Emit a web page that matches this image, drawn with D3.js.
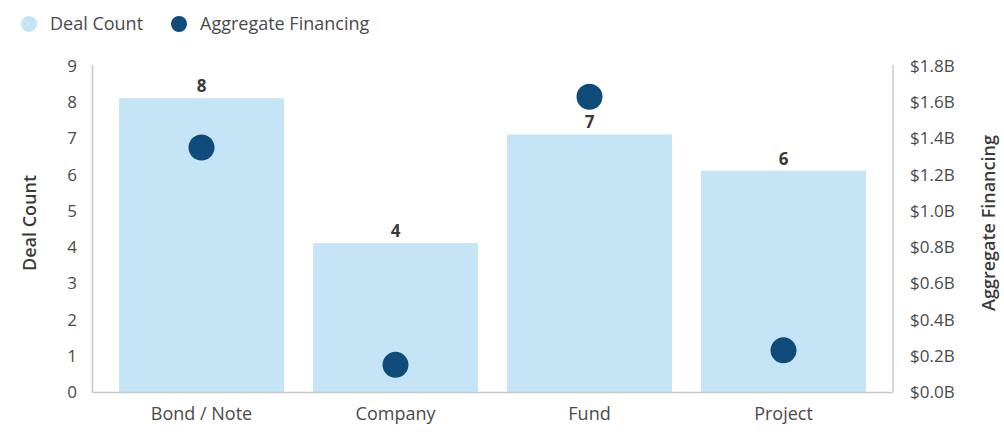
<!DOCTYPE html>
<html>
<head>
<meta charset="utf-8">
<script src="https://cdn.jsdelivr.net/npm/d3@7"></script>
<style>
  html, body { margin: 0; padding: 0; background: #fff; }
  svg { display: block; font-family: "Open Sans", sans-serif; }
</style>
</head>
<body>
<svg id="chart" width="1004" height="432"></svg>
<script>
const categories = ["Bond / Note", "Company", "Fund", "Project"];
const dealCount = [8, 4, 7, 6];
const aggregateFinancing = [1.35, 0.15, 1.63, 0.23]; // $B
const leftTicks = [0, 1, 2, 3, 4, 5, 6, 7, 8, 9];
const rightTicks = [0, 0.2, 0.4, 0.6, 0.8, 1.0, 1.2, 1.4, 1.6, 1.8];
const legendLabels = ["Deal Count", "Aggregate Financing"];

const svg = d3.select("#chart");
const barColor = "#c5e4f5";
const dotColor = "#0f4c7a";
const textColor = "#4a4a4a";
const axisColor = "#c8c8c8";

const plotLeft = 92.5, plotRight = 893, plotTop = 65, plotBottom = 392.5;

const x = d3.scaleBand().domain(categories).range([104.5, 880.5])
  .paddingInner(0.15).paddingOuter(0.075);
const yL = d3.scaleLinear().domain([0, 9]).range([392, 66]);
const yR = d3.scaleLinear().domain([0, 1.8]).range([392, 66]);

// bars
svg.append("g").selectAll("rect").data(categories).join("rect")
  .attr("x", d => x(d))
  .attr("width", x.bandwidth())
  .attr("y", (d, i) => yL(dealCount[i]) - 4)
  .attr("height", (d, i) => yL(0) - yL(dealCount[i]) + 4)
  .attr("fill", barColor);

// axis lines
const ax = svg.append("g").attr("stroke", axisColor).attr("stroke-width", 1.5);
ax.append("line").attr("x1", plotLeft).attr("x2", plotLeft).attr("y1", plotTop).attr("y2", plotBottom);
ax.append("line").attr("x1", plotRight).attr("x2", plotRight).attr("y1", plotTop).attr("y2", plotBottom);
ax.append("line").attr("x1", plotLeft).attr("x2", plotRight).attr("y1", plotBottom).attr("y2", plotBottom);

// left axis ticks (labels only)
const leftAxis = d3.axisLeft(yL).tickValues(leftTicks).tickSize(0).tickPadding(0).tickFormat(d3.format("d"));
const gL = svg.append("g").attr("transform", "translate(77,0)").call(leftAxis);
gL.select(".domain").remove();
gL.selectAll("text").attr("font-size", 17).attr("fill", textColor)
  .attr("font-family", "'Open Sans', sans-serif");

// right axis ticks
const rightAxis = d3.axisRight(yR).tickValues(rightTicks).tickSize(0).tickPadding(0)
  .tickFormat(d => "$" + d3.format(".1f")(d) + "B");
const gR = svg.append("g").attr("transform", "translate(910,0)").call(rightAxis);
gR.select(".domain").remove();
gR.selectAll("text").attr("font-size", 17).attr("fill", textColor)
  .attr("font-family", "'Open Sans', sans-serif");

// bottom axis labels
const bottomAxis = d3.axisBottom(x).tickSize(0).tickPadding(0);
const gB = svg.append("g").attr("transform", "translate(0,407)").call(bottomAxis);
gB.select(".domain").remove();
gB.selectAll("text").attr("font-size", 18).attr("fill", textColor)
  .attr("font-family", "'Open Sans', sans-serif");

// data labels
svg.append("g").selectAll("text").data(categories).join("text")
  .attr("x", d => x(d) + x.bandwidth() / 2)
  .attr("y", (d, i) => yL(dealCount[i]) - 10)
  .attr("text-anchor", "middle")
  .attr("font-size", 17).attr("font-weight", "bold").attr("fill", "#3a3a3a")
  .text((d, i) => dealCount[i]);

// dots
svg.append("g").selectAll("circle").data(categories).join("circle")
  .attr("cx", d => x(d) + x.bandwidth() / 2)
  .attr("cy", (d, i) => yR(aggregateFinancing[i]))
  .attr("r", 13)
  .attr("fill", dotColor);

// axis titles
svg.append("text")
  .attr("transform", "translate(36,223) rotate(-90)")
  .attr("text-anchor", "middle")
  .attr("font-size", 18).attr("font-weight", 600).attr("fill", "#3a3a3a")
  .text("Deal Count");
svg.append("text")
  .attr("transform", "translate(995,223) rotate(-90)")
  .attr("text-anchor", "middle")
  .attr("font-size", 18).attr("font-weight", 600).attr("fill", "#3a3a3a")
  .text("Aggregate Financing");

// legend
const legendColors = [barColor, dotColor];
const legendX = [29, 179];
const lg = svg.append("g");
legendLabels.forEach((label, i) => {
  lg.append("circle").attr("cx", legendX[i]).attr("cy", 24).attr("r", 8).attr("fill", legendColors[i]);
  lg.append("text").attr("x", legendX[i] + 21).attr("y", 30)
    .attr("font-size", 18).attr("fill", textColor).text(label);
});
</script>
</body>
</html>
